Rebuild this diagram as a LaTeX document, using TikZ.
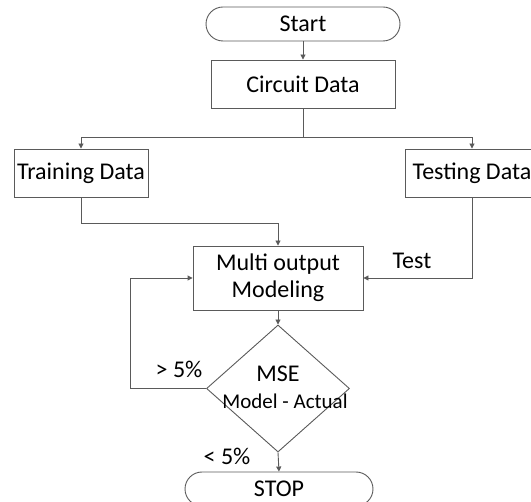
\documentclass[tikz,border=0pt]{standalone}
\usepackage{fontspec}
\setmainfont{Carlito}
\usetikzlibrary{arrows.meta,shapes.geometric}
\definecolor{linegray}{RGB}{90,90,90}
\begin{document}
\begin{tikzpicture}[x=1pt,y=-1pt,
  every node/.style={font=\fontsize{24}{27}\selectfont, text=black, inner sep=0pt},
  box/.style={draw=linegray, line width=0.9pt, rectangle, align=center},
  term/.style={draw=linegray, line width=0.9pt, rectangle, rounded corners=17pt, minimum height=34pt},
  conn/.style={draw=linegray, line width=0.9pt},
  arr/.style={conn, -{Triangle[width=5pt,length=5pt]}},
  lbl/.style={font=\fontsize{24}{27}\selectfont}
]
\useasboundingbox (0,0) rectangle (531,502);
\clip (0,0) rectangle (531,502);

\node[term, minimum width=194pt] (start) at (303,24) {Start};
\node[box, minimum width=184pt, minimum height=48pt] (circuit) at (303,84) {Circuit Data};
\node[box, minimum width=134pt, minimum height=48pt] (training) at (81,173) {Training Data};
\node[box, minimum width=134pt, minimum height=48pt] (testing) at (472,173) {Testing Data};
\node[box, minimum width=170pt, minimum height=64pt] (multi) at (278,278) {Multi output\\Modeling};
\node[draw=linegray, line width=0.9pt, diamond, minimum width=143pt, minimum height=127pt, inner sep=0pt] (mse) at (278,388.5) {};
\node (msetext) at (278,374) {MSE};
\node[font=\fontsize{21}{24}\selectfont] (msesub) at (285,401) {Model - Actual};
\node[term, minimum width=188pt] (stop) at (279,489) {STOP};

\coordinate (split) at (303,137);
\coordinate (tj) at (278,223);
\coordinate (fb) at (130,388.5);

\draw[arr] (start) -- (circuit);
\draw[conn] (circuit.south) -- (split);
\draw[arr] (split) -| (training.north);
\draw[arr] (split) -| (testing.north);
\draw[arr] (training.south) |- (tj) -- (multi.north);
\draw[arr] (testing.south) |- (multi.east);
\draw[arr] (multi.south) -- (mse.north);
\draw[arr] (mse.west) -- (fb) |- (multi.west);
\draw[arr] (mse.south) -- (stop.north);

\node[lbl] (gt) at (179,369) {> 5\%};
\node[lbl] (lt) at (227,456) {< 5\%};
\node[lbl] (test) at (412,261) {Test};
\end{tikzpicture}
\end{document}
